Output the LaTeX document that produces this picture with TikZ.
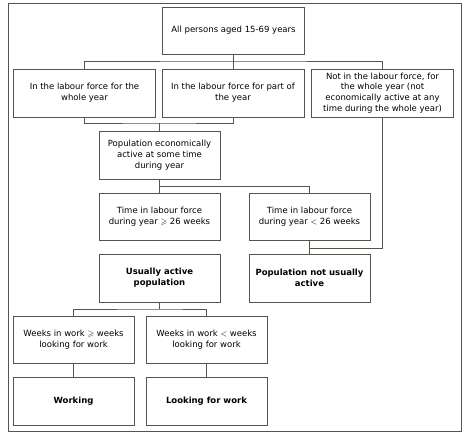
\documentclass[tikz,border=0pt]{standalone}
\usepackage{fontspec}
\usepackage{amssymb}
\setmainfont{DejaVu Sans}
\definecolor{linegray}{RGB}{85,85,75}
\tikzset{
  flowbox/.style={draw=linegray,line width=0.8pt,fill=white,align=center,inner sep=2pt,
    minimum width=121pt,minimum height=47pt},
  widebox/.style={flowbox,minimum width=142pt},
  link/.style={draw=linegray,line width=0.8pt}
}
\begin{document}
\begin{tikzpicture}[x=1pt,y=-1pt,font=\fontsize{8.5}{10.7}\selectfont]
		\useasboundingbox (0,0) rectangle (467,436);
		\draw[linegray,line width=0.8pt] (8,3) rectangle (461.5,431.5);
		% top levels
		\node[widebox] (all) at (233.5,30.5) {All persons aged 15-69 years};
		\node[widebox,minimum height=48pt] (whole) at (84.5,93) {In the labour force for the\\whole year};
		\node[widebox,minimum height=48pt] (part) at (233,93) {In the labour force for part of\\the year};
		\node[widebox,minimum height=48pt] (notlf) at (382.5,93) {Not in the labour force, for\\the whole year (not\\economically active at any\\time during the whole year)};
		\node[flowbox,minimum height=48pt] (active) at (159.5,155) {Population economically\\active at some time\\during year};
		% time in labour force
		\node[flowbox] (ge26) at (159.5,216.5) {Time in labour force\\during year $\geqslant$ 26 weeks};
		\node[flowbox] (lt26) at (309.5,216.5) {Time in labour force\\during year $<$ 26 weeks};
		\node[flowbox,minimum height=48pt,font=\fontsize{8.5}{10.7}\selectfont\bfseries] (usual) at (159.5,278) {Usually active\\population};
		\node[flowbox,minimum height=48pt,font=\fontsize{8.5}{10.7}\selectfont\bfseries] (notusual) at (309.5,278) {Population not usually\\active};
		% weeks in work
		\node[flowbox] (wge) at (73.5,339.5) {Weeks in work $\geqslant$ weeks\\looking for work};
		\node[flowbox] (wlt) at (206.5,339.5) {Weeks in work $<$ weeks\\looking for work};
		\node[flowbox,minimum height=48pt,font=\fontsize{8.5}{10.7}\selectfont\bfseries] (working) at (73.5,401) {Working};
		\node[flowbox,minimum height=48pt,font=\fontsize{8.5}{10.7}\selectfont\bfseries] (looking) at (206.5,401) {Looking for work};
		% junctions
		\coordinate (j1) at (233.5,61);
		\coordinate (j2) at (159.5,123);
		\coordinate (j3) at (159.5,186);
		\coordinate (j4) at (309.5,248);
		\coordinate (j5) at (159.5,309);
		\draw[link] (all.south) -- (j1);
		\draw[link] (whole.north) |- (j1) -| (notlf.north);
		\draw[link] (part.north) -- (part.north |- j1);
		\draw[link] (whole.south) |- (j2) -| (part.south);
		\draw[link] (j2) -- (active.north);
		\draw[link] (active.south) -- (ge26.north);
		\draw[link] (j3) -| (lt26.north);
		\draw[link] (lt26.south) -- (notusual.north);
		\draw[link] (notlf.south) |- (j4);
		\draw[link] (usual.south) -- (j5);
		\draw[link] (wge.north) |- (j5) -| (wlt.north);
		\draw[link] (wge.south) -- (working.north);
		\draw[link] (wlt.south) -- (looking.north);
\end{tikzpicture}
\end{document}
